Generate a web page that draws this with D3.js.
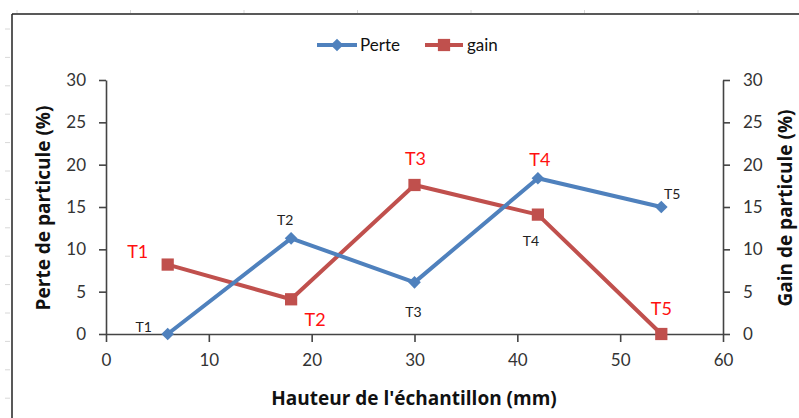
<!DOCTYPE html>
<html>
<head>
<meta charset="utf-8">
<script src="https://cdn.jsdelivr.net/npm/d3@7"></script>
<style>
  html, body { margin: 0; padding: 0; background: #fff; }
  svg { display: block; }
  text { font-family: Lato, "Open Sans", sans-serif; }
  .title { font-family: "Open Sans", Lato, sans-serif; font-weight: bold; font-size: 19px; fill: #111; }
</style>
</head>
<body>
<svg id="chart" width="799" height="418"></svg>
<script>
// Sample heights (mm) and the two measured series (%)
const hauteurs = [6, 18, 30, 42, 54];
const perte = [0, 11.3, 6.1, 18.4, 15.0];
const gain = [8.2, 4.1, 17.6, 14.1, 0];
const pointNames = ["T1", "T2", "T3", "T4", "T5"];
const xTicks = [0, 10, 20, 30, 40, 50, 60];
const yTicks = [0, 5, 10, 15, 20, 25, 30];

// Label placement (pixel offsets from the anchoring point)
const perteLabelOffsets = [[-24, -2], [-6, -13], [-1, 35], [-7, 31], [11, -8]];
const gainLabelOffsets = [[-30, -7], [24, 27], [1, -20], [2, -12], [0, -19]];
// T4 red label sits over the Perte point, T4 black under the gain point
const perteLabelAnchor = [perte, perte, perte, gain, perte];
const gainLabelAnchor = [gain, gain, gain, perte, gain];

const blue = "#4F81BD", red = "#C0504D";
const svg = d3.select("#chart");

// Spreadsheet frame remnants
const frame = svg.append("g");
frame.append("line").attr("x1", 12).attr("x2", 799).attr("y1", 14).attr("y2", 14)
  .attr("stroke", "#222").attr("stroke-width", 1.5);
frame.append("line").attr("x1", 12).attr("x2", 12).attr("y1", 14).attr("y2", 418)
  .attr("stroke", "#222").attr("stroke-width", 1.5);
d3.range(7).forEach(i => {
  frame.append("line").attr("x1", 17 + i * 113.5).attr("x2", 17 + i * 113.5)
    .attr("y1", 10).attr("y2", 13).attr("stroke", "#d8d8d8");
});
d3.range(14).forEach(i => {
  frame.append("line").attr("x1", 5).attr("x2", 10)
    .attr("y1", 29 + i * 28.4).attr("y2", 29 + i * 28.4).attr("stroke", "#d8d8d8");
});

const x = d3.scaleLinear().domain([0, 60]).range([106, 723]);
const yL = d3.scaleLinear().domain([0, 30]).range([334, 80]);
const yR = d3.scaleLinear().domain([0, 30]).range([334, 80]);

function styleAxis(g) {
  g.select(".domain").attr("stroke", "#444").attr("stroke-width", 1.6);
  g.selectAll(".tick line").attr("stroke", "#444").attr("stroke-width", 1.6);
  g.selectAll(".tick text").attr("fill", "#333").style("font-size", "17px")
    .style("font-family", "Lato, sans-serif");
}

svg.append("g").attr("transform", "translate(0,334)")
  .call(d3.axisBottom(x).tickValues(xTicks).tickSize(8).tickSizeOuter(0).tickPadding(12))
  .call(styleAxis);
svg.append("g").attr("transform", "translate(106,0)")
  .call(d3.axisLeft(yL).tickValues(yTicks).tickSize(7).tickSizeOuter(0).tickPadding(13))
  .call(styleAxis);
svg.append("g").attr("transform", "translate(723,0)")
  .call(d3.axisRight(yR).tickValues(yTicks).tickSize(7).tickSizeOuter(0).tickPadding(13))
  .call(styleAxis);

// Axis titles
svg.append("text").attr("class", "title").attr("x", 414).attr("y", 405).attr("text-anchor", "middle")
  .text("Hauteur de l'échantillon (mm)");
svg.append("text").attr("class", "title").attr("transform", "translate(50,208) rotate(-90)")
  .attr("text-anchor", "middle").text("Perte de particule (%)");
svg.append("text").attr("class", "title").attr("transform", "translate(792,208) rotate(-90)")
  .attr("text-anchor", "middle").text("Gain de particule (%)");

const line = (ys, yScale) => d3.line().x((d, i) => x(hauteurs[i])).y(d => yScale(d))(ys);
const square = d3.symbol().type(d3.symbolSquare).size(150);

// Gain series (right axis)
svg.append("path").attr("d", line(gain, yR)).attr("fill", "none")
  .attr("stroke", red).attr("stroke-width", 4).attr("stroke-linejoin", "round");
svg.append("g").selectAll("path").data(gain).join("path")
  .attr("d", square).attr("fill", red)
  .attr("transform", (d, i) => `translate(${x(hauteurs[i])},${yR(d)})`);

// Perte series (left axis)
svg.append("path").attr("d", line(perte, yL)).attr("fill", "none")
  .attr("stroke", blue).attr("stroke-width", 4).attr("stroke-linejoin", "round");
svg.append("g").selectAll("path").data(perte).join("path")
  .attr("d", d3.symbol().type(d3.symbolSquare).size(80)).attr("fill", blue)
  .attr("transform", (d, i) => `translate(${x(hauteurs[i])},${yL(d)}) rotate(45)`);

// Point labels
svg.append("g").selectAll("text").data(pointNames).join("text")
  .attr("x", (d, i) => x(hauteurs[i]) + perteLabelOffsets[i][0])
  .attr("y", (d, i) => yL(perteLabelAnchor[i][i]) + perteLabelOffsets[i][1])
  .attr("text-anchor", "middle").attr("fill", "#222").style("font-size", "14px")
  .text(d => d);
svg.append("g").selectAll("text").data(pointNames).join("text")
  .attr("x", (d, i) => x(hauteurs[i]) + gainLabelOffsets[i][0])
  .attr("y", (d, i) => yR(gainLabelAnchor[i][i]) + gainLabelOffsets[i][1])
  .attr("text-anchor", "middle").attr("fill", "#FF1010").style("font-size", "18px")
  .text(d => d);

// Legend
const legend = svg.append("g");
legend.append("line").attr("x1", 317).attr("x2", 357).attr("y1", 45).attr("y2", 45)
  .attr("stroke", blue).attr("stroke-width", 4);
legend.append("path").attr("d", d3.symbol().type(d3.symbolSquare).size(80))
  .attr("transform", "translate(337,45) rotate(45)").attr("fill", blue);
legend.append("text").attr("x", 360).attr("y", 51).style("font-size", "17px").attr("fill", "#111").text("Perte");
legend.append("line").attr("x1", 425).attr("x2", 463).attr("y1", 45).attr("y2", 45)
  .attr("stroke", red).attr("stroke-width", 4);
legend.append("path").attr("d", square).attr("transform", "translate(444,45)").attr("fill", red);
legend.append("text").attr("x", 467).attr("y", 51).style("font-size", "17px").attr("fill", "#111").text("gain");
</script>
</body>
</html>
